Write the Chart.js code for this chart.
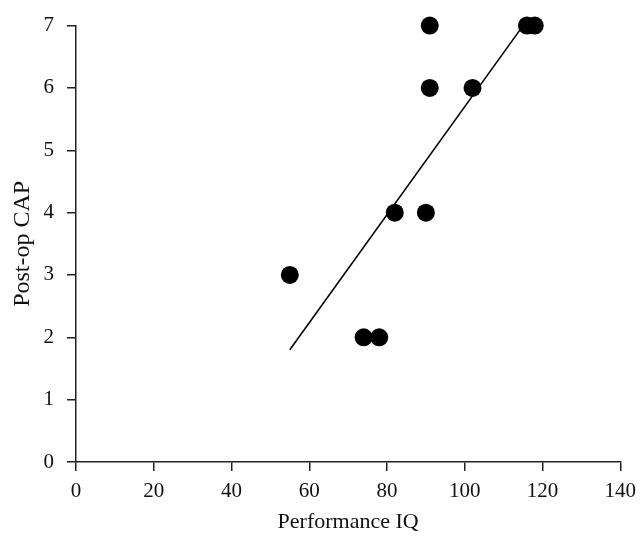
<!DOCTYPE html>
<html>
<head>
<meta charset="utf-8">
<script src="https://cdn.jsdelivr.net/npm/chart.js@4/dist/chart.umd.min.js"></script>
<style>
  html, body { margin: 0; padding: 0; background: #fff; }
  #wrap { width: 644px; height: 545px; }
</style>
</head>
<body>
<div id="wrap"><canvas id="scatterChart" width="644" height="545"></canvas></div>
<script>
// values
const iqValues = [55, 74, 78, 82, 90, 91, 91, 102, 116, 118];
const capValues = [3, 2, 2, 4, 4, 6, 7, 6, 7, 7];
// fitted line end points
const fitX = [55, 115];
const fitY = [1.8, 7.0];

const xTicks = [0, 20, 40, 60, 80, 100, 120, 140];
const yTicks = [0, 1, 2, 3, 4, 5, 6, 7];

const serif = "'Liberation Serif', 'DejaVu Serif', serif";

const points = iqValues.map((v, i) => ({ x: v, y: capValues[i] }));
const fitLine = fitX.map((v, i) => ({ x: v, y: fitY[i] }));

const ctx = document.getElementById('scatterChart').getContext('2d');
const chart = new Chart(ctx, {
    type: 'scatter',
    data: {
        datasets: [{
            label: 'Patients',
            data: points,
            backgroundColor: '#000',
            borderColor: '#000',
            borderWidth: 0,
            pointRadius: 9,
            pointHoverRadius: 9,
            clip: false
        }, {
            label: 'Fit',
            data: fitLine,
            showLine: true,
            borderColor: '#000',
            borderWidth: 1.6,
            pointRadius: 0,
            fill: false,
            clip: false
        }]
    },
    options: {
        responsive: false,
        animation: false,
        layout: { padding: { top: 21, right: 22, left: 0, bottom: 0 } },
        plugins: {
            legend: { display: false },
            tooltip: { enabled: false }
        },
        scales: {
            x: {
                type: 'linear',
                min: 0,
                max: 140,
                afterBuildTicks: axis => { axis.ticks = xTicks.map(v => ({ value: v })); },
                afterFit: axis => { axis.height = 83; },
                border: { color: '#222', width: 1.5 },
                grid: { drawOnChartArea: false, tickLength: 9, color: '#222', lineWidth: 1.5 },
                ticks: { color: '#111', font: { family: serif, size: 21 }, padding: 8, maxRotation: 0 },
                title: { display: true, text: 'Performance IQ', color: '#111', font: { family: serif, size: 22 }, padding: { top: 0, bottom: 10 } }
            },
            y: {
                type: 'linear',
                min: 0,
                max: 7,
                afterBuildTicks: axis => { axis.ticks = yTicks.map(v => ({ value: v })); },
                afterFit: axis => { axis.width = 76; },
                border: { color: '#222', width: 1.5 },
                grid: { drawOnChartArea: false, tickLength: 9, color: '#222', lineWidth: 1.5 },
                ticks: { color: '#111', font: { family: serif, size: 21 }, padding: 13 },
                title: { display: true, text: 'Post-op CAP', color: '#111', font: { family: serif, size: 24 }, padding: { top: 8, bottom: 0 } }
            }
        }
    }
});
</script>
</body>
</html>
